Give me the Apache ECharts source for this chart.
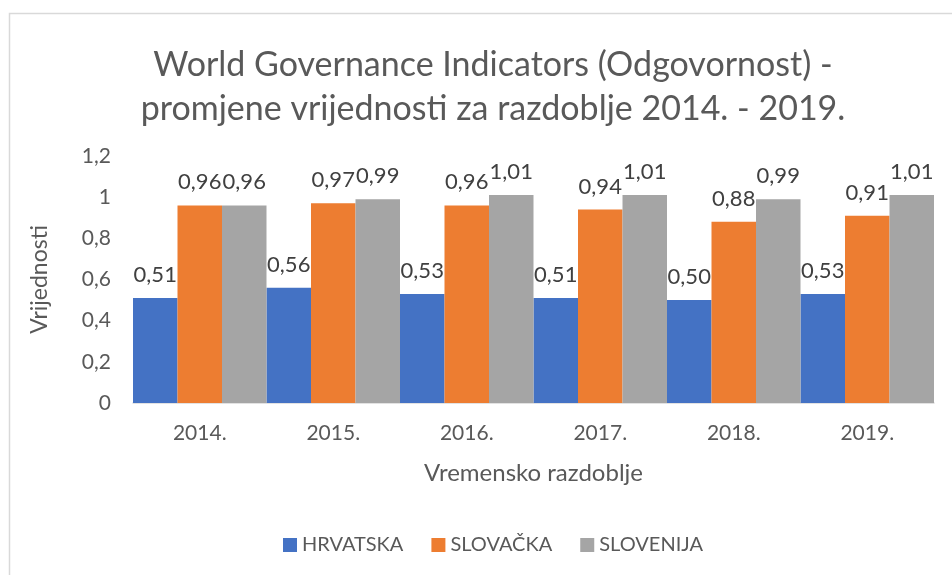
<!DOCTYPE html>
<html><head><meta charset="utf-8">
<script src="https://cdn.jsdelivr.net/npm/echarts@6/dist/echarts.min.js"></script>
<style>html,body{margin:0;padding:0;background:#fff}#c{width:952px;height:575px}</style>
</head><body><div id="c"></div>
<script>
const categories = ['2014.', '2015.', '2016.', '2017.', '2018.', '2019.'];
const hrvatska = [0.51, 0.56, 0.53, 0.51, 0.50, 0.53];
const slovacka = [0.96, 0.97, 0.96, 0.94, 0.88, 0.91];
const slovenija = [0.96, 0.99, 1.01, 1.01, 0.99, 1.01];
const seriesNames = ['HRVATSKA', 'SLOVAČKA', 'SLOVENIJA'];
const yTicks = [0, 0.2, 0.4, 0.6, 0.8, 1, 1.2];

const FONT = 'Lato';
const fmt = v => v.toFixed(2).replace('.', ',');
const chart = echarts.init(document.getElementById('c'));
function bar(name, data, color) {
  return {
    name, type: 'bar', data, barGap: '0%', barCategoryGap: '0%',
    itemStyle: { color },
    label: { show: true, position: 'top', distance: 12, color: '#404040', fontSize: 22, fontFamily: FONT,
      formatter: p => fmt(p.value) }
  };
}
chart.setOption({
  animation: false,
  graphic: [{ type: 'rect', left: 7, top: 11, shape: { width: 980, height: 620 },
    style: { fill: 'none', stroke: '#d9d9d9', lineWidth: 1.5 }, silent: true, z: -1 }],
  title: {
    text: 'World Governance Indicators (Odgovornost) -\npromjene vrijednosti za razdoblje 2014. - 2019.',
    left: 488, textAlign: 'center', top: 38,
    textStyle: { fontFamily: FONT, fontSize: 34, fontWeight: 'normal', color: '#595959', lineHeight: 44 }
  },
  legend: {
    bottom: 15, left: 278, itemWidth: 14, itemHeight: 14, itemGap: 28,
    icon: 'rect',
    textStyle: { fontFamily: FONT, fontSize: 20, color: '#595959' },
    data: seriesNames
  },
  grid: { left: 133, right: 18, top: 156, bottom: 172 },
  xAxis: {
    type: 'category', data: categories,
    name: 'Vremensko razdoblje', nameLocation: 'middle', nameGap: 58,
    nameTextStyle: { fontFamily: FONT, fontSize: 24, color: '#595959' },
    axisLine: { lineStyle: { color: '#d9d9d9', width: 1.5 } },
    axisTick: { show: false },
    axisLabel: { fontFamily: FONT, fontSize: 21, color: '#595959', margin: 20 }
  },
  yAxis: {
    type: 'value', min: 0, max: 1.2, interval: 0.2,
    name: 'Vrijednosti', nameLocation: 'middle', nameGap: 82, nameRotate: 90,
    nameTextStyle: { fontFamily: FONT, fontSize: 23, color: '#595959' },
    axisLine: { show: false }, axisTick: { show: false }, splitLine: { show: false },
    axisLabel: { fontFamily: FONT, fontSize: 21, color: '#595959', margin: 22,
      formatter: v => { const t = yTicks.find(x => Math.abs(x - v) < 1e-9); return String(t !== undefined ? t : v).replace('.', ','); } }
  },
  series: [
    bar(seriesNames[0], hrvatska, '#4472c4'),
    bar(seriesNames[1], slovacka, '#ed7d31'),
    bar(seriesNames[2], slovenija, '#a5a5a5')
  ]
});
</script></body></html>
